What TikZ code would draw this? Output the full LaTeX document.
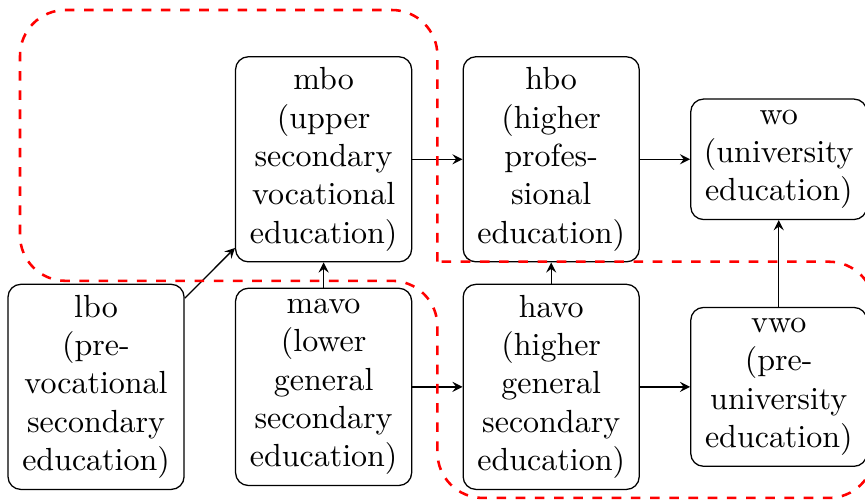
\documentclass[tikz,border=0pt]{standalone}
\usepackage{tikz}
\usetikzlibrary{arrows, positioning}

\begin{document}
\begin{tikzpicture}[auto, on grid, node distance=2.5cm,
    school/.style={draw, rounded corners, text width=1.7cm, align=center}]
        \useasboundingbox (-1.055,-1.24) rectangle (8.447,4.25);
        \node[school] (lbo)                   {lbo\\(pre-vocational secondary education)};
        \node[school] (mavo) [right of=lbo]   {mavo\\(lower general secondary education)};
        \node[school] (havo) [right of=mavo]  {havo\\(higher general secondary education)};
        \node[school] (vwo)  [right of=havo]  {vwo\\(pre-university education)};
        \node[school] (mbo)  [above of=mavo]  {mbo\\(upper secondary vocational education)};
        \node[school] (hbo)  [above of=havo]  {hbo\\(higher profes\-sional education)};
        \node[school] (wo)   [above of=vwo]   {wo\\(university education)};
        \path[-stealth]
          (lbo)  edge (mbo)
          (mavo) edge (mbo)
                 edge (havo)
          (mbo)  edge (hbo)
          (havo) edge (hbo)
                 edge (vwo)
          (hbo)  edge (wo)
          (vwo)  edge (wo);
        % the two routes
        \draw[red, thick, dashed, rounded corners=0.5cm]
          (3.75,1.375) -- (3.75,4.14) -- (-0.835,4.14) -- (-0.835,1.165)
          -- (3.75,1.165) -- (3.75,-1.22) -- (8.55,-1.22) -- (8.55,1.375)
          -- (3.75,1.375);
      \end{tikzpicture}
\end{document}
